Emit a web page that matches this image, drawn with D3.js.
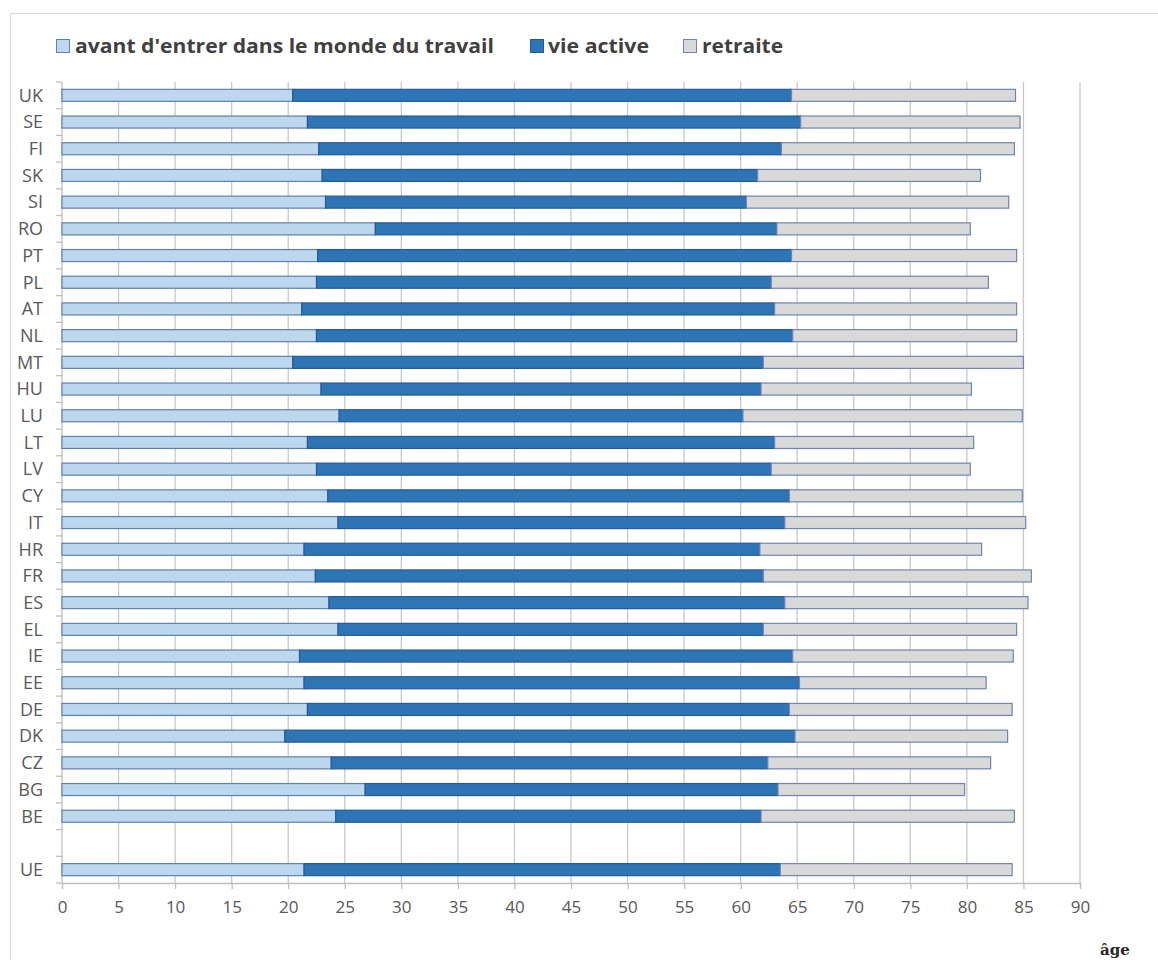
<!DOCTYPE html>
<html>
<head>
<meta charset="utf-8">
<script src="https://cdn.jsdelivr.net/npm/d3@7"></script>
<style>
  body { margin: 0; background: #fff; }
  text { font-family: "Open Sans", "Liberation Sans", sans-serif; }
</style>
</head>
<body>
<div id="chart"></div>
<script>
// data (ages) - top to bottom, "" is the empty slot
var countries = ['UK','SE','FI','SK','SI','RO','PT','PL','AT','NL','MT','HU','LU','LT','LV',
                 'CY','IT','HR','FR','ES','EL','IE','EE','DE','DK','CZ','BG','BE','','UE'];

// years before entering working life
var avant = [20.4, 21.7, 22.7, 23.0, 23.3, 27.7, 22.6, 22.5, 21.2, 22.5, 20.4, 22.9, 24.5, 21.7, 22.5,
             23.5, 24.4, 21.4, 22.4, 23.6, 24.4, 21.0, 21.4, 21.7, 19.7, 23.8, 26.8, 24.2, null, 21.4];
// years of working life
var active = [44.1, 43.6, 40.9, 38.5, 37.2, 35.5, 41.9, 40.2, 41.8, 42.1, 41.6, 38.9, 35.7, 41.3, 40.2,
              40.8, 39.5, 40.3, 39.6, 40.3, 37.6, 43.6, 43.8, 42.6, 45.1, 38.6, 36.5, 37.6, null, 42.1];
// years of retirement
var retraite = [19.8, 19.4, 20.6, 19.7, 23.2, 17.1, 19.9, 19.2, 21.4, 19.8, 23.0, 18.6, 24.7, 17.6, 17.6,
                20.6, 21.3, 19.6, 23.7, 21.5, 22.4, 19.5, 16.5, 19.7, 18.8, 19.7, 16.5, 22.4, null, 20.5];

var seriesNames = ["avant d'entrer dans le monde du travail", 'vie active', 'retraite'];
var xTicks = [0, 5, 10, 15, 20, 25, 30, 35, 40, 45, 50, 55, 60, 65, 70, 75, 80, 85, 90];

// styles
const WIDTH = 1158;
const HEIGHT = 960;
const FILLS = ['#bdd7ee', '#2e75b6', '#d9d9d9'];
const STROKES = ['#5f7fb0', '#24589a', '#6f84b4'];

var svg = d3.select('#chart').append('svg')
            .attr('width', WIDTH)
            .attr('height', HEIGHT);

// chart frame (only left and top edges are visible)
svg.append('path')
   .attr('d', 'M10.5,' + HEIGHT + 'V13.5H' + WIDTH)
   .attr('fill', 'none')
   .attr('stroke', '#d9d9d9');

var x = d3.scaleLinear().domain([0, 90]).range([62, 1080]);
var y = d3.scaleBand().domain(d3.range(countries.length)).range([82, 883]).paddingInner(0.55).paddingOuter(0.275);

// vertical gridlines
svg.append('g').selectAll('line').data(xTicks.slice(1))
   .enter().append('line')
   .attr('x1', d => x(d)).attr('x2', d => x(d))
   .attr('y1', 82).attr('y2', 883)
   .attr('stroke', '#c8c8c8')
   .attr('stroke-width', 1.3);

// x axis
var xAxis = svg.append('g')
               .attr('transform', 'translate(0,883)')
               .call(d3.axisBottom(x).tickValues(xTicks).tickSize(6).tickPadding(12));
xAxis.select('.domain').attr('stroke', '#bfbfbf').attr('stroke-width', 1.3);
xAxis.selectAll('.tick line').attr('stroke', '#bfbfbf').attr('stroke-width', 1.3);
xAxis.selectAll('.tick text')
     .attr('fill', '#595959')
     .style('font-size', '17px');

// y axis: line at 0 with ticks between categories
var step = y.step();
svg.append('line')
   .attr('x1', x(0)).attr('x2', x(0))
   .attr('y1', 82).attr('y2', 883)
   .attr('stroke', '#bfbfbf')
   .attr('stroke-width', 1.3);
svg.append('g').selectAll('line').data(d3.range(countries.length + 1))
   .enter().append('line')
   .attr('x1', x(0) - 6).attr('x2', x(0))
   .attr('y1', d => 82 + d * step).attr('y2', d => 82 + d * step)
   .attr('stroke', '#bfbfbf')
   .attr('stroke-width', 1.3);
svg.append('g').selectAll('text').data(countries)
   .enter().append('text')
   .attr('x', 43)
   .attr('y', (d, i) => y(i) + y.bandwidth() / 2)
   .attr('dy', '0.35em')
   .attr('text-anchor', 'end')
   .attr('fill', '#595959')
   .style('font-size', '18px')
   .text(d => d);

// stacked bars
var rows = countries.map((c, i) => ({i: i, values: [avant[i], active[i], retraite[i]]}))
                    .filter(r => r.values[0] !== null);
var bars = svg.append('g').selectAll('g.row').data(rows)
              .enter().append('g')
              .classed('row', true);
bars.selectAll('rect').data(r => {
      var start = 0;
      return r.values.map((v, k) => {
        var seg = {row: r.i, k: k, x0: start, x1: start + v};
        start += v;
        return seg;
      });
    })
    .enter().append('rect')
    .attr('x', d => x(d.x0))
    .attr('y', d => y(d.row))
    .attr('width', d => x(d.x1) - x(d.x0))
    .attr('height', y.bandwidth())
    .attr('fill', d => FILLS[d.k])
    .attr('stroke', d => STROKES[d.k])
    .attr('stroke-width', 1.2);

// legend
var legendPos = [{sx: 56, tx: 75, w: 419}, {sx: 530, tx: 548, w: 101}, {sx: 683, tx: 702, w: 81}];
var legend = svg.append('g').selectAll('g').data(seriesNames)
                .enter().append('g');
legend.append('rect')
      .attr('x', (d, i) => legendPos[i].sx + 0.5)
      .attr('y', 39.5)
      .attr('width', 13)
      .attr('height', 13)
      .attr('fill', (d, i) => FILLS[i])
      .attr('stroke', (d, i) => STROKES[i]);
legend.append('text')
      .attr('x', (d, i) => legendPos[i].tx)
      .attr('y', 53)
      .attr('textLength', (d, i) => legendPos[i].w)
      .attr('lengthAdjust', 'spacingAndGlyphs')
      .attr('fill', '#404040')
      .style('font-size', '20px')
      .style('font-weight', 'bold')
      .text(d => d);

// axis title
svg.append('text')
   .attr('x', 1100)
   .attr('y', 955)
   .attr('fill', '#262626')
   .style('font-family', '"DejaVu Serif", serif')
   .style('font-size', '15px')
   .style('font-weight', 'bold')
   .text('âge');
</script>
</body>
</html>
